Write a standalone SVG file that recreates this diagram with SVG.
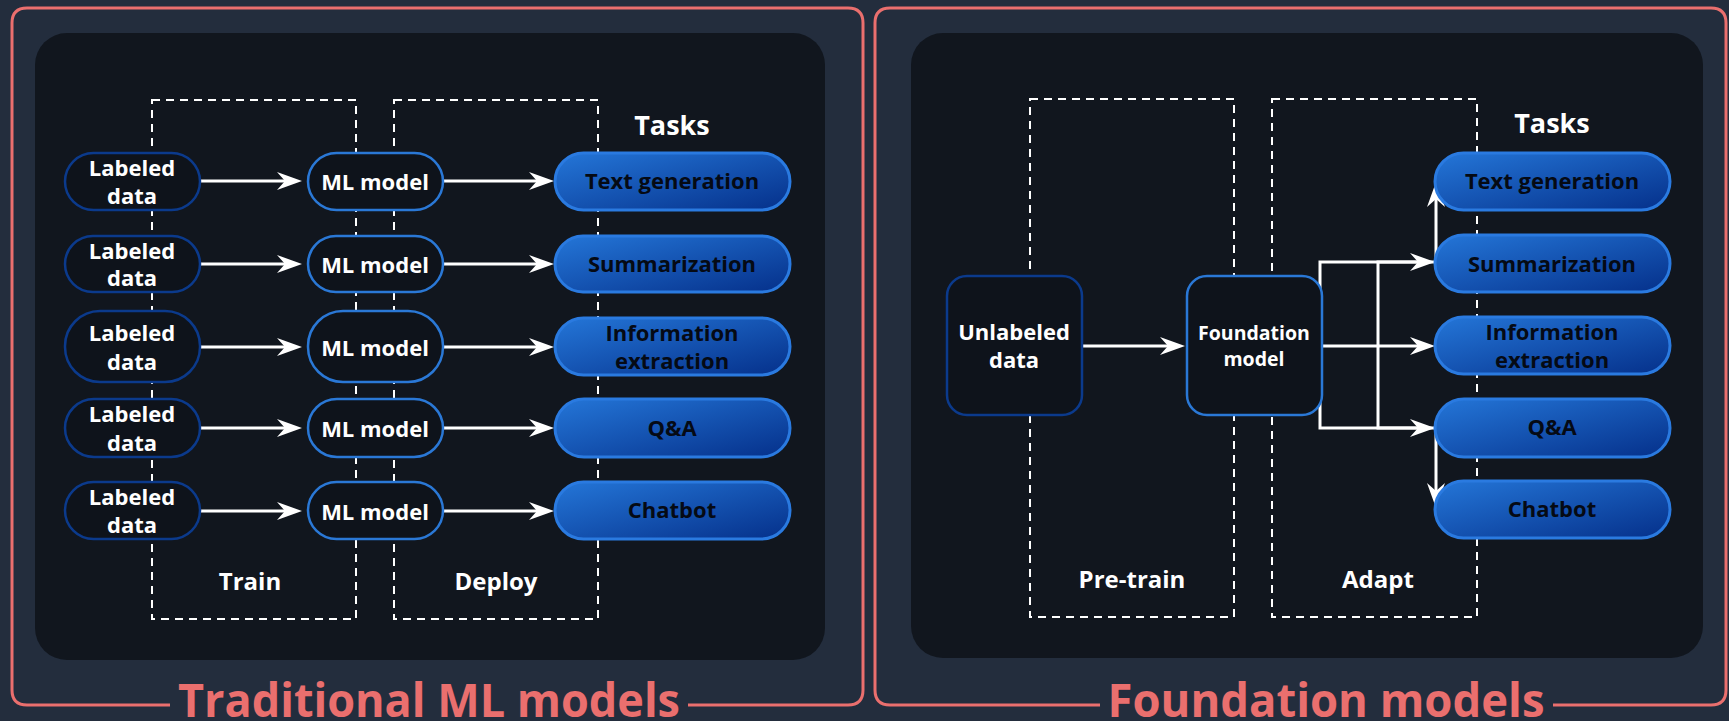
<svg xmlns="http://www.w3.org/2000/svg" width="1729" height="721" viewBox="0 0 1729 721">
<defs>
<linearGradient id="tg" x1="0" y1="0" x2="1" y2="1">
<stop offset="0" stop-color="#2476d8"/>
<stop offset="1" stop-color="#05308a"/>
</linearGradient>
<marker id="ah" markerUnits="userSpaceOnUse" markerWidth="26" markerHeight="18" refX="13" refY="9" orient="auto">
<path d="M0,0 L25,9 L0,18 L8,9 z" fill="#ffffff"/>
</marker>
<style>
.frame{fill:none;stroke:#ea6f6e;stroke-width:3}
.panel{fill:#11161e}
.dash{fill:none;stroke:#ffffff;stroke-width:2;stroke-dasharray:8 6}
.lab{fill:#0e131b;stroke:#0b3a8c;stroke-width:2.5}
.mdl{fill:#0e131b;stroke:#2a78d6;stroke-width:2.5}
.task{fill:url(#tg);stroke:#2a7ae0;stroke-width:3}
.t{font-family:"Open Sans","Liberation Sans",sans-serif;font-weight:700;text-anchor:middle}
.w{fill:#ffffff;font-size:22px}
.k{fill:#050a14;font-size:22px}
.hd{fill:#ffffff;font-size:27px}
.ph{fill:#ffffff;font-size:24px}
.ttl{fill:#ea6f6e;font-size:46px}
.c{fill:none;stroke:#ffffff;stroke-width:3;marker-end:url(#ah)}
</style>
</defs>
<rect width="1729" height="721" fill="#232d3d"/>
<g id="left-panel">
<rect class="panel" x="35" y="33" width="790" height="627" rx="32"/>
<path class="frame" d="M170,705 H27 Q12,705 12,690 V23 Q12,8 27,8 H848 Q863,8 863,23 V690 Q863,705 848,705 H688"/>
<text class="t ttl" x="429" y="717" textLength="502" lengthAdjust="spacingAndGlyphs">Traditional ML models</text>
</g>
<g id="right-panel">
<rect class="panel" x="911" y="33" width="792" height="625" rx="32"/>
<path class="frame" d="M1100,705 H890 Q875,705 875,690 V23 Q875,8 890,8 H1711 Q1726,8 1726,23 V690 Q1726,705 1711,705 H1553"/>
<text class="t ttl" x="1326" y="717" textLength="437" lengthAdjust="spacingAndGlyphs">Foundation models</text>
</g>
<g id="stages">
<rect class="dash" x="152" y="100" width="204" height="519"/>
<rect class="dash" x="394" y="100" width="204" height="519"/>
<rect class="dash" x="1030" y="99" width="204" height="518"/>
<rect class="dash" x="1272" y="99" width="205" height="518"/>
<text class="t ph" x="250" y="590">Train</text>
<text class="t ph" x="496" y="590">Deploy</text>
<text class="t ph" x="1132" y="588">Pre-train</text>
<text class="t ph" x="1378" y="588">Adapt</text>
<text class="t hd" x="672" y="135">Tasks</text>
<text class="t hd" x="1552" y="133">Tasks</text>
</g>
<g id="connectors">
<path class="c" d="M200,181 H290"/>
<path class="c" d="M200,264 H290"/>
<path class="c" d="M200,347 H290"/>
<path class="c" d="M200,428 H290"/>
<path class="c" d="M200,511 H290"/>
<path class="c" d="M443,181 H542"/>
<path class="c" d="M443,264 H542"/>
<path class="c" d="M443,347 H542"/>
<path class="c" d="M443,428 H542"/>
<path class="c" d="M443,511 H542"/>
<path class="c" d="M1082,346 H1173"/>
<path class="c" d="M1320,346 V262 H1436 V194"/>
<path class="c" d="M1378,346 V262 H1423"/>
<path class="c" d="M1320,346 H1423"/>
<path class="c" d="M1378,346 V428 H1423"/>
<path class="c" d="M1320,346 V428 H1436 V496"/>
</g>
<g id="labeled-1"><rect class="lab" x="65" y="153" width="135" height="57" rx="28.5"/><text class="t w" x="132" y="176">Labeled</text><text class="t w" x="132" y="204">data</text></g>
<g id="labeled-2"><rect class="lab" x="65" y="236" width="135" height="56" rx="28"/><text class="t w" x="132" y="259">Labeled</text><text class="t w" x="132" y="286">data</text></g>
<g id="labeled-3"><rect class="lab" x="65" y="311" width="135" height="71" rx="35"/><text class="t w" x="132" y="341">Labeled</text><text class="t w" x="132" y="370">data</text></g>
<g id="labeled-4"><rect class="lab" x="65" y="399" width="135" height="58" rx="29"/><text class="t w" x="132" y="422">Labeled</text><text class="t w" x="132" y="451">data</text></g>
<g id="labeled-5"><rect class="lab" x="65" y="482" width="135" height="57" rx="28.5"/><text class="t w" x="132" y="505">Labeled</text><text class="t w" x="132" y="533">data</text></g>
<g id="ml-1"><rect class="mdl" x="308" y="153" width="135" height="57" rx="28.5"/><text class="t w" x="375" y="190">ML model</text></g>
<g id="ml-2"><rect class="mdl" x="308" y="236" width="135" height="56" rx="28"/><text class="t w" x="375" y="273">ML model</text></g>
<g id="ml-3"><rect class="mdl" x="308" y="311" width="135" height="71" rx="35"/><text class="t w" x="375" y="356">ML model</text></g>
<g id="ml-4"><rect class="mdl" x="308" y="399" width="135" height="58" rx="29"/><text class="t w" x="375" y="437">ML model</text></g>
<g id="ml-5"><rect class="mdl" x="308" y="482" width="135" height="57" rx="28.5"/><text class="t w" x="375" y="520">ML model</text></g>
<g id="task-l1"><rect class="task" x="555" y="153" width="235" height="57" rx="28.5"/><text class="t k" x="672" y="189">Text generation</text></g>
<g id="task-l2"><rect class="task" x="555" y="236" width="235" height="56" rx="28"/><text class="t k" x="672" y="272">Summarization</text></g>
<g id="task-l3"><rect class="task" x="555" y="318" width="235" height="57" rx="28.5"/><text class="t k" x="672" y="341">Information</text><text class="t k" x="672" y="369">extraction</text></g>
<g id="task-l4"><rect class="task" x="555" y="399" width="235" height="58" rx="29"/><text class="t k" x="672" y="436">Q&amp;A</text></g>
<g id="task-l5"><rect class="task" x="555" y="482" width="235" height="57" rx="28.5"/><text class="t k" x="672" y="518">Chatbot</text></g>
<g id="unlabeled"><rect class="lab" x="947" y="276" width="135" height="139" rx="20"/><text class="t w" x="1014" y="340">Unlabeled</text><text class="t w" x="1014" y="368">data</text></g>
<g id="foundation"><rect class="mdl" x="1187" y="276" width="135" height="139" rx="20"/><text class="t w" x="1254" y="340" style="font-size:19.5px">Foundation</text><text class="t w" x="1254" y="366" style="font-size:19.5px">model</text></g>
<g id="task-r1"><rect class="task" x="1435" y="153" width="235" height="57" rx="28.5"/><text class="t k" x="1552" y="189">Text generation</text></g>
<g id="task-r2"><rect class="task" x="1435" y="235" width="235" height="57" rx="28.5"/><text class="t k" x="1552" y="272">Summarization</text></g>
<g id="task-r3"><rect class="task" x="1435" y="317" width="235" height="57" rx="28.5"/><text class="t k" x="1552" y="340">Information</text><text class="t k" x="1552" y="368">extraction</text></g>
<g id="task-r4"><rect class="task" x="1435" y="399" width="235" height="58" rx="29"/><text class="t k" x="1552" y="435">Q&amp;A</text></g>
<g id="task-r5"><rect class="task" x="1435" y="481" width="235" height="57" rx="28.5"/><text class="t k" x="1552" y="517">Chatbot</text></g>
</svg>
